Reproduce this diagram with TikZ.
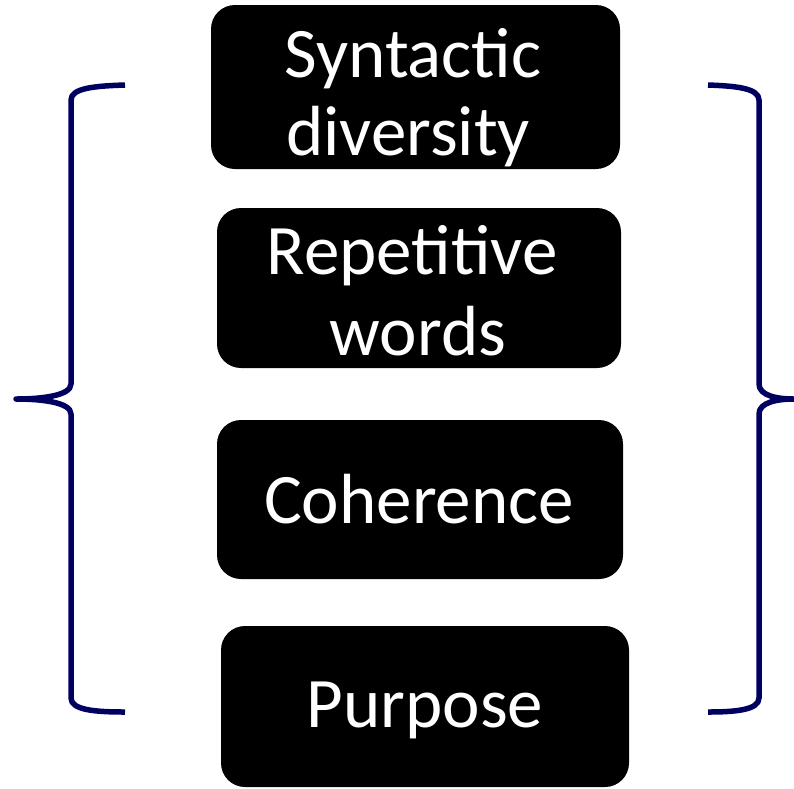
\documentclass[tikz,border=0pt]{standalone}
\usepackage{fontspec}
\setmainfont{Carlito}
\definecolor{bracenavy}{RGB}{0,0,96}
\begin{document}
\begin{tikzpicture}[x=1pt,y=-1pt,
  box/.style={fill=black, rounded corners=24pt, inner sep=0pt},
  lbl/.style={text=white, font=\fontsize{71}{82}\selectfont, inner sep=0pt, anchor=base},
  brace/.style={draw=bracenavy, line width=5.5pt, line cap=butt, line join=round}]
\useasboundingbox (0,0) rectangle (794,788);
\node[box, minimum width=409pt, minimum height=164pt] (b1) at (415.5,87) {};
\node[box, minimum width=404pt, minimum height=160pt] (b2) at (419,288) {};
\node[box, minimum width=406pt, minimum height=159pt] (b3) at (420,499.5) {};
\node[box, minimum width=408pt, minimum height=161pt] (b4) at (425,706.5) {};
\node[lbl] (t1a) at (413,77) {Syntactic};
\node[lbl] (t1b) at (408,155) {diversity};
\node[lbl] (t2a) at (412,274) {Repetitive};
\node[lbl] (t2b) at (418,355) {words};
\node[lbl] (t3) at (419,523) {Coherence};
\node[lbl] (t4) at (425,727) {Purpose};
% left brace
\draw[brace] (125,85) .. controls (95,86) and (71,88) .. (71,100) -- (71,384)
  .. controls (71,396) and (40,399) .. (16,399)
  .. controls (40,399) and (71,402) .. (71,414) -- (71,698)
  .. controls (71,710) and (95,712) .. (125,712);
% right brace
\draw[brace] (708,85) .. controls (735,86) and (759,88) .. (759,100) -- (759,384)
  .. controls (759,396) and (778,399) .. (794,399)
  .. controls (778,399) and (759,402) .. (759,414) -- (759,698)
  .. controls (759,710) and (735,712) .. (708,712);
\end{tikzpicture}
\end{document}
